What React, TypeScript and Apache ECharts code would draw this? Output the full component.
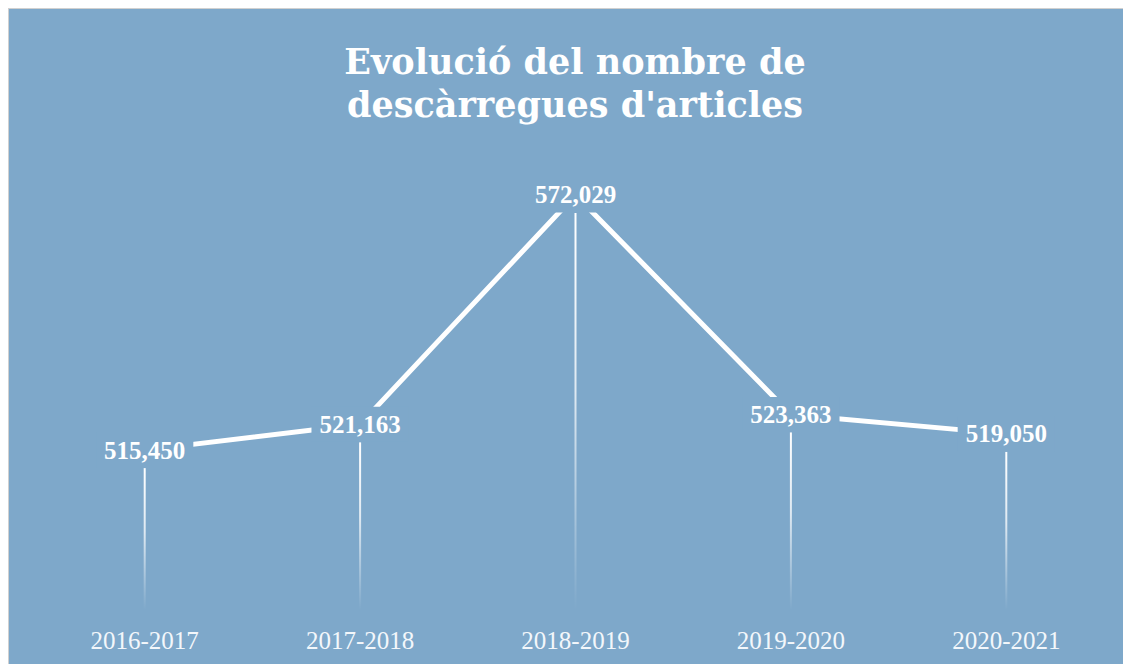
import React, { useEffect, useRef } from "react";
import * as echarts from "echarts";

const categories = ["2016-2017", "2017-2018", "2018-2019", "2019-2020", "2020-2021"];
const downloads = [515450, 521163, 572029, 523363, 519050];
const titleLines = ["Evolució del nombre de", "descàrregues d'articles"];

const BG = "#7ea8ca";
const Y_MIN = 480000;
const Y_MAX = 580000;

export default function App() {
  const ref = useRef<HTMLDivElement>(null);
  useEffect(() => {
    if (!ref.current) return;
    const chart = echarts.init(ref.current, null, { renderer: "svg" });
    chart.setOption({
      animation: false,
      backgroundColor: BG,
      title: {
        text: titleLines.join("\n"),
        left: "center",
        top: 26,
        textStyle: {
          color: "#ffffff",
          fontFamily: "DejaVu Serif",
          fontWeight: "bold",
          fontSize: 35,
          lineHeight: 43,
        },
      },
      grid: { left: 28, right: 27, top: 150, bottom: 79 },
      xAxis: {
        type: "category",
        data: categories,
        boundaryGap: true,
        axisLine: { show: false },
        axisTick: { show: false },
        splitLine: { show: false },
        axisLabel: {
          color: "#f3f7fb",
          fontFamily: "Liberation Serif",
          fontSize: 25,
          margin: 18,
        },
      },
      yAxis: {
        type: "value",
        min: Y_MIN,
        max: Y_MAX,
        show: false,
        splitLine: { show: false },
      },
      series: [
        {
          type: "custom",
          z: 1,
          data: downloads.map((v, i) => [i, v]),
          renderItem: (params: any, api: any) => {
            const top = api.coord([api.value(0), api.value(1)]);
            const bottom = api.coord([api.value(0), Y_MIN]);
            const y0 = top[1] + 18;
            return {
              type: "rect",
              shape: { x: top[0] - 1, y: y0, width: 2, height: bottom[1] - y0 },
              style: {
                fill: new echarts.graphic.LinearGradient(0, 0, 0, 1, [
                  { offset: 0, color: "rgba(255,255,255,1)" },
                  { offset: 0.45, color: "rgba(255,255,255,0.75)" },
                  { offset: 1, color: "rgba(255,255,255,0)" },
                ]),
              },
            };
          },
        },
        {
          type: "line",
          z: 3,
          data: downloads,
          symbol: "circle",
          symbolSize: 2,
          showSymbol: true,
          itemStyle: { color: "#ffffff" },
          lineStyle: { color: "#ffffff", width: 5 },
          label: {
            show: true,
            position: "inside",
            formatter: (p: any) => Number(p.value).toLocaleString("en-US"),
            color: "#ffffff",
            fontFamily: "Liberation Serif",
            fontWeight: "bold",
            fontSize: 25,
            backgroundColor: BG,
            padding: [5, 8],
          },
        },
      ],
    });
    return () => chart.dispose();
  }, []);
  return (
    <div style={{ border: "1px solid #d0d0d0", width: 1132, height: 680, background: BG }}>
      <div ref={ref} style={{ width: 1132, height: 680 }} />
    </div>
  );
}
